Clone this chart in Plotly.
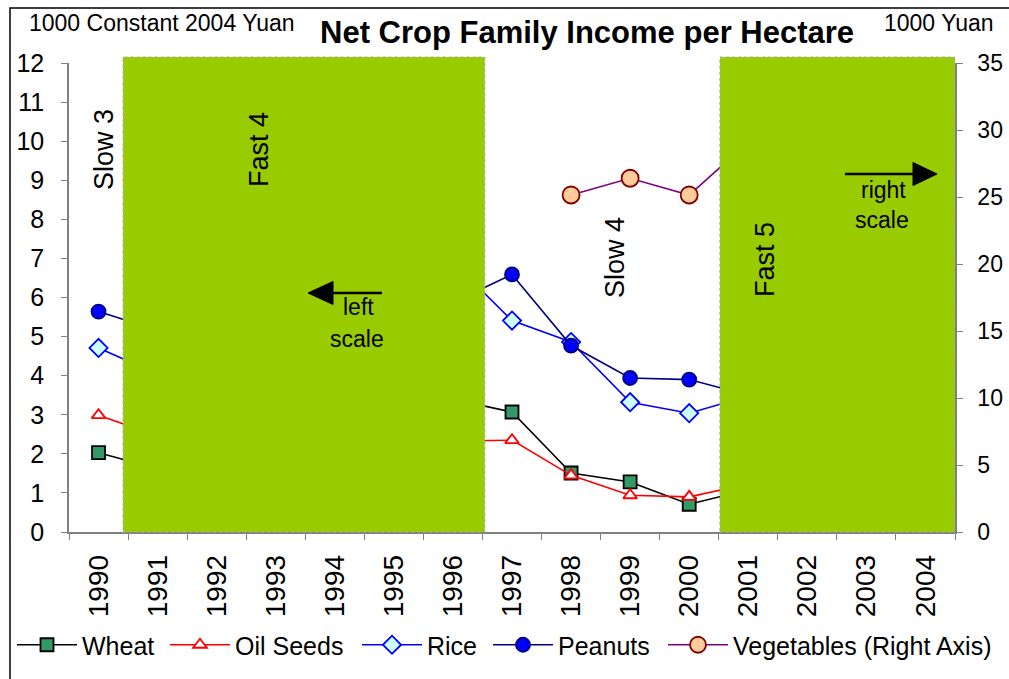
import plotly.graph_objects as go

years = [str(y) for y in range(1990, 2005)]

# Net income per hectare, 1000 constant 2004 yuan (left scale)
wheat = [2.03, 1.62, 1.9, 2.4, 2.9, 3.6, 3.40, 3.07, 1.51, 1.28, 0.71, 1.08, 1.3, 1.5, 2.0]
oil_seeds = [2.99, 2.46, 2.6, 2.9, 3.2, 2.8, 2.33, 2.35, 1.45, 0.94, 0.90, 1.23, 1.4, 1.6, 1.9]
rice = [4.71, 4.04, 4.3, 5.2, 6.5, 7.2, 6.91, 5.41, 4.86, 3.32, 3.04, 3.48, 3.6, 4.0, 4.6]
peanuts = [5.64, 5.16, 5.4, 5.9, 6.3, 6.0, 5.87, 6.59, 4.77, 3.94, 3.90, 3.50, 3.7, 4.1, 4.5]
# Vegetables, 1000 yuan (right scale)
vegetables = [None] * 8 + [25.15, 26.4, 25.15, 29.1, 30.0, 30.5, 31.0]

GREEN = "#99cc00"
FONT = "Liberation Sans, Arial, sans-serif"
W, H = 1009, 679

# plot-area geometry in pixels, used to place decorations in paper units
L, R, T, B = 69, 955, 63, 532


def px(x):
    return (x - L) / (R - L)


def py(y):
    return (B - y) / (B - T)


fig = go.Figure()

# one legend box per series, laid out in a single row under the axis
legend_x = [12, 165, 357, 488, 663]
legend_ids = ["legend", "legend2", "legend3", "legend4", "legend5"]
legend_layout = {}
for lid, lx in zip(legend_ids, legend_x):
    legend_layout[lid] = dict(
        orientation="h", xref="container", yref="container",
        x=lx / W, y=(H - 645) / H, xanchor="left", yanchor="middle",
        font=dict(size=25, family=FONT, color="#000000"),
        itemwidth=60, bgcolor="rgba(0,0,0,0)",
    )


def add_series(name, values, line_color, symbol, fill, edge, size, lid, axis="y"):
    fig.add_trace(go.Scatter(
        x=years, y=values, name=name, mode="lines+markers", yaxis=axis,
        legend=lid,
        line=dict(color=line_color, width=1.6),
        marker=dict(symbol=symbol, size=size, color=fill,
                    line=dict(color=edge, width=1.8)),
        connectgaps=False,
    ))


add_series("Wheat", wheat, "#000000", "square", "#339966", "#000000", 13, "legend")
add_series("Oil Seeds", oil_seeds, "#ff0000", "triangle-up", "#ffffff", "#ff0000", 12, "legend2")
add_series("Rice", rice, "#0000ff", "diamond", "#ccffff", "#0000ff", 14, "legend3")
add_series("Peanuts", peanuts, "#000080", "circle", "#0000ff", "#000080", 14, "legend4")
add_series("Vegetables (Right Axis)", vegetables, "#800080", "circle", "#ffcc99",
           "#800000", 17, "legend5", "y2")

# Shaded periods drawn over the series
for x0, x1 in [(0.415, 6.54), (10.52, 14.5)]:
    fig.add_shape(type="rect", xref="x", yref="paper", x0=x0, x1=x1, y0=0, y1=py(57),
                  fillcolor=GREEN, line=dict(color="#a8a8a8", width=1, dash="dot"),
                  layer="above")

# Outer frame
fig.add_shape(type="rect", xref="paper", yref="paper",
              x0=px(10), x1=px(1014), y0=py(684), y1=py(8),
              line=dict(color="#000000", width=1.5), fillcolor="rgba(0,0,0,0)", layer="below")


def label(text, x, y, size, angle=0):
    fig.add_annotation(x=px(x), y=py(y), xref="paper", yref="paper", text=text,
                       showarrow=False, textangle=angle,
                       xanchor="center", yanchor="middle",
                       font=dict(size=size, color="#000000", family=FONT))


label("Slow 3", 104, 150, 27, -90)
label("Fast 4", 259, 150, 27, -90)
label("Slow 4", 615, 258, 27, -90)
label("Fast 5", 765, 260, 27, -90)
label("left", 358, 307, 23)
label("scale", 357, 339, 23)
label("right", 883, 190, 23)
label("scale", 882, 220, 23)


def arrow(tail_x, tip_x, y, base_x, half_h):
    fig.add_shape(type="line", xref="paper", yref="paper",
                  x0=px(tail_x), x1=px(base_x), y0=py(y), y1=py(y),
                  line=dict(color="#000000", width=2.5), layer="above")
    path = "M {} {} L {} {} L {} {} Z".format(
        px(tip_x), py(y), px(base_x), py(y - half_h), px(base_x), py(y + half_h))
    fig.add_shape(type="path", xref="paper", yref="paper", path=path,
                  fillcolor="#000000", line=dict(color="#000000", width=1), layer="above")


arrow(382, 308, 293, 333, 11.5)
arrow(845, 937, 174, 913, 11.5)

# Titles and unit labels
fig.add_annotation(x=px(587), y=py(32), xref="paper", yref="paper",
                   xanchor="center", yanchor="middle",
                   text="<b>Net Crop Family Income per Hectare</b>", showarrow=False,
                   font=dict(size=31, color="#000000", family=FONT))
fig.add_annotation(x=px(27), y=py(23), xref="paper", yref="paper",
                   xanchor="left", yanchor="middle",
                   text="1000 Constant 2004 Yuan", showarrow=False,
                   font=dict(size=23, color="#000000", family=FONT))
fig.add_annotation(x=px(996), y=py(23), xref="paper", yref="paper",
                   xanchor="right", yanchor="middle", text="1000 Yuan", showarrow=False,
                   font=dict(size=23, color="#000000", family=FONT))

fig.update_layout(
    width=W, height=H,
    margin=dict(l=L, r=W - R, t=T, b=H - B, autoexpand=False),
    paper_bgcolor="#ffffff", plot_bgcolor="#ffffff",
    font=dict(family=FONT, color="#000000"),
    showlegend=True,
    xaxis=dict(type="category", range=[-0.5, 14.5], tickson="boundaries",
               ticks="outside", ticklen=6, tickcolor="#808080", tickangle=-90,
               ticklabelstandoff=10,
               showline=True, linecolor="#808080", linewidth=1.5, showgrid=False,
               tickfont=dict(size=28, family=FONT), zeroline=False),
    yaxis=dict(range=[0, 12], dtick=1, ticks="outside", ticklen=6, tickcolor="#808080",
               ticklabelstandoff=12,
               showline=True, linecolor="#808080", linewidth=1.5, showgrid=False,
               tickfont=dict(size=25, family=FONT), zeroline=False),
    yaxis2=dict(range=[0, 35], dtick=5, overlaying="y", side="right", ticks="outside",
                ticklen=6, tickcolor="#808080", ticklabelstandoff=10,
                showline=True, linecolor="#808080",
                linewidth=1.5, showgrid=False, tickfont=dict(size=23, family=FONT),
                zeroline=False),
    **legend_layout,
)

fig.write_html("out.html")
